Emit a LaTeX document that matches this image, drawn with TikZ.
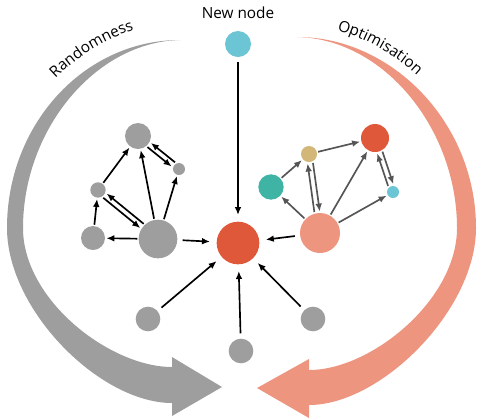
\documentclass[tikz,border=0pt]{standalone}
\usepackage{fontspec}
\setmainfont{Open Sans}
\usetikzlibrary{arrows.meta, decorations.text}

\definecolor{nodegray}{HTML}{9E9E9E}
\definecolor{linegray}{HTML}{555555}
\definecolor{hubred}{HTML}{E0583A}
\definecolor{salmonpink}{HTML}{EE9580}
\definecolor{tealgreen}{HTML}{40B4A4}
\definecolor{sandtan}{HTML}{D2B779}
\definecolor{skycyan}{HTML}{6CC5D5}

\begin{document}
\begin{tikzpicture}[x=0.75pt, y=-0.75pt,
    dot/.style={circle, inner sep=0pt, outer sep=1pt},
    arr/.style={-{Latex[length=6pt,width=5pt]}, line width=1.25pt},
    garr/.style={arr, linegray},
    hubarr/.style={arr, shorten <=3pt, shorten >=4pt},
    lab/.style={font=\fontsize{11.5}{14}\selectfont}]
    \useasboundingbox (0,0) rectangle (477,419);
    % Big arrows
    \fill[nodegray] (180,40) .. controls (84.5,40) and (7,124) .. (7,228)
        .. controls (7,310) and (100,403) .. (172,403) -- (172,416) -- (222,387)
        -- (172,357) -- (172,367) .. controls (110,367) and (23,300) .. (23,228)
        .. controls (23,130) and (95,42) .. (180,40) -- cycle;
    \fill[salmonpink] (297,37) .. controls (393,37) and (476,124) .. (476,228)
        .. controls (476,310) and (381,405) .. (309,405) -- (309,418) -- (257,388)
        -- (309,359) -- (309,370) .. controls (371,370) and (457,300) .. (457,228)
        .. controls (457,130) and (385,39) .. (297,37) -- cycle;
    \path[decorate, decoration={text along path, text align=center,
        text={|\fontsize{11.5}{14}\selectfont|Randomness}}]
        (200,225) ++(198.4:206) arc[start angle=198.4, end angle=278.4, radius=206];
    \path[decorate, decoration={text along path, text align=center,
        text={|\fontsize{11.5}{14}\selectfont|Optimisation}}]
        (280,225) ++(259.4:203) arc[start angle=259.4, end angle=339.4, radius=203];
    % New node and hub
    \node[lab, anchor=base] (newlab) at (238,18.5) {New node};
    \node[dot, fill=skycyan, minimum size=19.5pt] (newnode) at (238,44) {};
    \node[dot, fill=hubred, minimum size=32pt] (hub) at (238,243) {};
    % Randomness network
    \node[dot, fill=nodegray, minimum size=19.5pt] (rtop) at (138,136) {};
    \node[dot, fill=nodegray, minimum size=9pt] (rsmall) at (179,169) {};
    \node[dot, fill=nodegray, minimum size=11.5pt] (rmid) at (98,190) {};
    \node[dot, fill=nodegray, minimum size=18pt] (rleft) at (93,238) {};
    \node[dot, fill=nodegray, minimum size=29pt] (rbig) at (158,239) {};
    \draw[arr] (rbig) -- (rtop);
    \draw[arr] (rmid) -- (rtop);
    \draw[arr] (rbig) -- (rsmall);
    \draw[arr] (rleft) -- (rmid);
    \draw[arr] (rbig) -- (rleft);
    \draw[arr, transform canvas={shift={(-1.7,2.1)}}] (rtop) -- (rsmall);
    \draw[arr, transform canvas={shift={(1.7,-2.1)}}] (rsmall) -- (rtop);
    \draw[arr, transform canvas={shift={(-1.7,2.1)}}] (rmid) -- (rbig);
    \draw[arr, transform canvas={shift={(1.7,-2.1)}}] (rbig) -- (rmid);
    % Optimisation network
    \node[dot, fill=tealgreen, minimum size=19pt] (oteal) at (271,187) {};
    \node[dot, fill=sandtan, minimum size=12pt] (otan) at (309,154) {};
    \node[dot, fill=hubred, minimum size=21pt] (ored) at (375,138) {};
    \node[dot, fill=skycyan, minimum size=9pt] (ocyan) at (393,192) {};
    \node[dot, fill=salmonpink, minimum size=30pt] (obig) at (320,233) {};
    \draw[garr] (obig) -- (oteal);
    \draw[garr] (oteal) -- (otan);
    \draw[garr] (otan) -- (ored);
    \draw[garr] (obig) -- (ored);
    \draw[garr] (obig) -- (ocyan);
    \draw[garr, transform canvas={shift={(-2.7,0.3)}}] (obig) -- (otan);
    \draw[garr, transform canvas={shift={(2.7,-0.3)}}] (otan) -- (obig);
    \draw[garr, transform canvas={shift={(-2.6,0.9)}}] (ocyan) -- (ored);
    \draw[garr, transform canvas={shift={(2.6,-0.9)}}] (ored) -- (ocyan);
    % Lower nodes
    \node[dot, fill=nodegray, minimum size=18.5pt] (low1) at (148,319) {};
    \node[dot, fill=nodegray, minimum size=18.5pt] (low2) at (241,351) {};
    \node[dot, fill=nodegray, minimum size=18.5pt] (low3) at (313,319) {};
    % Into the hub
    \foreach \src in {newnode, rbig, obig, low1, low2, low3}
        \draw[hubarr] (\src) -- (hub);
\end{tikzpicture}
\end{document}
